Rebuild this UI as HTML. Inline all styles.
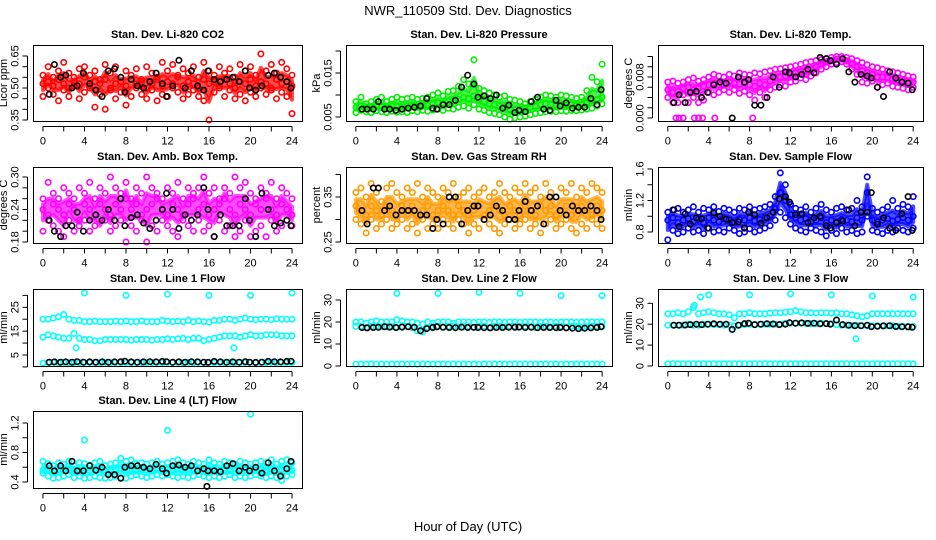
<!DOCTYPE html>
<html><head><meta charset="utf-8"><style>
html,body{margin:0;padding:0;background:#fff;}
svg{display:block;font-family:"Liberation Sans",sans-serif;}
</style></head><body>
<svg id="chart" width="936" height="540" viewBox="0 0 936 540">
<text x="468" y="15" text-anchor="middle" font-size="13">NWR_110509  Std. Dev. Diagnostics</text>
<text x="468" y="531" text-anchor="middle" font-size="13">Hour of Day (UTC)</text>
</svg>
<script>
const hours=[0,0.5,1,1.5,2,2.5,3,3.5,4,4.5,5,5.5,6,6.5,7,7.5,8,8.5,9,9.5,10,10.5,11,11.5,12,12.5,13,13.5,14,14.5,15,15.5,16,16.5,17,17.5,18,18.5,19,19.5,20,20.5,21,21.5,22,22.5,23,23.5,24];
const blackHours=[0.6,1.1,1.7,2.2,2.8,3.3,3.9,4.5,5.1,5.7,6.3,6.9,7.5,7.9,8.5,9.1,9.7,10.3,10.9,11.5,11.9,12.5,13.1,13.7,14.3,14.9,15.5,15.9,16.5,17.1,17.7,18.3,18.9,19.5,19.9,20.5,21.1,21.7,22.3,22.9,23.5,23.9];

const co2A=[0.56,0.60,0.55,0.58,0.62,0.57,0.55,0.59,0.60,0.56,0.58,0.54,0.61,0.57,0.60,0.55,0.58,0.56,0.59,0.54,0.60,0.57,0.55,0.62,0.58,0.61,0.56,0.59,0.57,0.60,0.55,0.62,0.58,0.56,0.60,0.57,0.59,0.55,0.61,0.58,0.60,0.56,0.66,0.58,0.61,0.57,0.62,0.59,0.56];
const co2B=[0.46,0.50,0.47,0.44,0.49,0.46,0.51,0.45,0.48,0.50,0.41,0.47,0.40,0.49,0.45,0.48,0.42,0.46,0.50,0.47,0.45,0.49,0.44,0.47,0.46,0.50,0.48,0.45,0.47,0.49,0.46,0.44,0.35,0.48,0.50,0.46,0.49,0.45,0.47,0.44,0.48,0.46,0.50,0.47,0.49,0.45,0.48,0.46,0.38];
const co2C=[0.52,0.53,0.51,0.54,0.52,0.50,0.53,0.52,0.55,0.51,0.53,0.52,0.54,0.50,0.52,0.53,0.51,0.54,0.52,0.53,0.50,0.52,0.54,0.51,0.53,0.52,0.55,0.51,0.53,0.52,0.50,0.54,0.52,0.53,0.51,0.54,0.52,0.50,0.53,0.52,0.54,0.51,0.53,0.52,0.50,0.54,0.52,0.53,0.51];
const co2Black=[0.47,0.61,0.55,0.56,0.50,0.51,0.57,0.52,0.49,0.46,0.58,0.59,0.55,0.48,0.54,0.51,0.50,0.53,0.57,0.52,0.46,0.51,0.63,0.50,0.58,0.51,0.49,0.58,0.54,0.53,0.54,0.55,0.53,0.58,0.50,0.49,0.51,0.56,0.57,0.55,0.53,0.50];

const presA=[0.0085,0.0095,0.0080,0.0085,0.0090,0.0095,0.0085,0.0090,0.0095,0.0090,0.0092,0.0095,0.0090,0.0092,0.0095,0.0100,0.0105,0.0098,0.0108,0.0110,0.0120,0.0135,0.0125,0.0180,0.0115,0.0110,0.0105,0.0100,0.0095,0.0098,0.0090,0.0088,0.0085,0.0080,0.0085,0.0090,0.0095,0.0100,0.0098,0.0095,0.0100,0.0098,0.0095,0.0092,0.0095,0.0110,0.0140,0.0130,0.0170];
const presB=[0.0060,0.0065,0.0062,0.0060,0.0064,0.0062,0.0060,0.0063,0.0061,0.0062,0.0060,0.0064,0.0062,0.0065,0.0063,0.0066,0.0068,0.0065,0.0070,0.0068,0.0072,0.0075,0.0070,0.0078,0.0068,0.0065,0.0060,0.0058,0.0055,0.0050,0.0045,0.0048,0.0050,0.0052,0.0055,0.0058,0.0060,0.0062,0.0063,0.0062,0.0064,0.0063,0.0065,0.0064,0.0066,0.0068,0.0070,0.0075,0.0080];
const presC=[0.0072,0.0075,0.0073,0.0072,0.0074,0.0073,0.0072,0.0075,0.0074,0.0073,0.0075,0.0076,0.0074,0.0076,0.0078,0.0080,0.0082,0.0080,0.0085,0.0088,0.0090,0.0095,0.0092,0.0098,0.0090,0.0085,0.0080,0.0078,0.0075,0.0072,0.0068,0.0066,0.0068,0.0070,0.0072,0.0075,0.0078,0.0080,0.0078,0.0076,0.0078,0.0077,0.0078,0.0076,0.0078,0.0082,0.0088,0.0090,0.0095];
const presBlack=[0.0068,0.0068,0.0068,0.0085,0.0068,0.0068,0.0065,0.0068,0.0070,0.0072,0.0075,0.0092,0.0070,0.0068,0.0078,0.0078,0.0088,0.0118,0.0145,0.0125,0.0095,0.0098,0.0092,0.0100,0.0070,0.0077,0.0060,0.0065,0.0062,0.0085,0.0095,0.0068,0.0065,0.0088,0.0075,0.0082,0.0070,0.0072,0.0072,0.0092,0.0078,0.0112];

const tempA=[0.0070,0.0072,0.0068,0.0070,0.0075,0.0078,0.0072,0.0075,0.0080,0.0085,0.0082,0.0080,0.0085,0.0082,0.0088,0.0085,0.0084,0.0088,0.0086,0.0090,0.0092,0.0095,0.0096,0.0098,0.0100,0.0102,0.0105,0.0108,0.0110,0.0112,0.0114,0.0116,0.0118,0.0120,0.0120,0.0118,0.0116,0.0112,0.0108,0.0104,0.0100,0.0098,0.0095,0.0092,0.0090,0.0088,0.0085,0.0082,0.0080];
const tempB=[0.0040,0.0030,0.0030,0.0045,0.0030,0.0040,0.0030,0.0035,0.0050,0.0045,0.0050,0.0055,0.0050,0.0055,0.0048,0.0052,0.0045,0.0035,0.0050,0.0040,0.0055,0.0060,0.0065,0.0062,0.0070,0.0072,0.0078,0.0075,0.0082,0.0088,0.0095,0.0100,0.0105,0.0108,0.0110,0.0105,0.0095,0.0085,0.0070,0.0068,0.0072,0.0060,0.0065,0.0068,0.0062,0.0060,0.0058,0.0055,0.0060];
const tempC=[0.0055,0.0050,0.0052,0.0058,0.0060,0.0055,0.0058,0.0062,0.0065,0.0068,0.0065,0.0066,0.0070,0.0068,0.0066,0.0068,0.0065,0.0062,0.0068,0.0065,0.0072,0.0078,0.0080,0.0082,0.0085,0.0088,0.0090,0.0092,0.0095,0.0100,0.0105,0.0110,0.0112,0.0115,0.0115,0.0112,0.0106,0.0100,0.0092,0.0088,0.0085,0.0080,0.0080,0.0078,0.0076,0.0074,0.0072,0.0070,0.0070];
const tempZeroHours=[0.8,1.1,1.5,2.6,3.0,3.4,4.6,8.3];
const tempZeroValues=[0,0,0,0,0,0,0,0];
const tempBlack=[0.0030,0.0045,0.0030,0.0050,0.0052,0.0040,0.0050,0.0065,0.0070,0.0068,0.0000,0.0080,0.0070,0.0075,0.0025,0.0025,0.0040,0.0080,0.0060,0.0090,0.0088,0.0080,0.0085,0.0095,0.0088,0.0118,0.0116,0.0112,0.0105,0.0116,0.0090,0.0070,0.0085,0.0082,0.0078,0.0060,0.0042,0.0090,0.0078,0.0070,0.0068,0.0055];

const ambA=[0.26,0.29,0.27,0.26,0.28,0.27,0.26,0.28,0.27,0.29,0.26,0.28,0.27,0.30,0.28,0.27,0.29,0.26,0.28,0.27,0.30,0.28,0.27,0.26,0.28,0.27,0.29,0.26,0.28,0.27,0.28,0.30,0.27,0.28,0.26,0.28,0.27,0.30,0.28,0.29,0.27,0.26,0.28,0.27,0.29,0.26,0.28,0.27,0.26];
const ambB=[0.20,0.22,0.21,0.20,0.19,0.22,0.20,0.21,0.22,0.20,0.21,0.17,0.22,0.20,0.21,0.22,0.18,0.21,0.20,0.22,0.18,0.21,0.20,0.22,0.21,0.20,0.19,0.22,0.21,0.20,0.22,0.20,0.21,0.19,0.22,0.20,0.21,0.19,0.20,0.22,0.19,0.20,0.21,0.19,0.22,0.20,0.21,0.22,0.21];
const ambC=[0.24,0.23,0.25,0.24,0.23,0.25,0.24,0.22,0.25,0.24,0.23,0.25,0.24,0.23,0.25,0.24,0.26,0.24,0.25,0.23,0.24,0.25,0.26,0.24,0.23,0.25,0.24,0.23,0.25,0.26,0.24,0.25,0.23,0.24,0.25,0.26,0.24,0.23,0.25,0.24,0.23,0.25,0.24,0.26,0.24,0.23,0.25,0.24,0.23];
const ambBlack=[0.22,0.20,0.19,0.21,0.21,0.235,0.20,0.22,0.23,0.22,0.24,0.22,0.26,0.21,0.225,0.23,0.215,0.205,0.22,0.24,0.27,0.24,0.205,0.23,0.22,0.23,0.28,0.24,0.19,0.23,0.21,0.21,0.21,0.26,0.22,0.19,0.27,0.24,0.21,0.215,0.22,0.21];

const rhA=[0.36,0.37,0.35,0.38,0.36,0.34,0.37,0.38,0.36,0.35,0.37,0.36,0.38,0.35,0.37,0.36,0.35,0.37,0.36,0.38,0.35,0.36,0.37,0.35,0.36,0.37,0.35,0.36,0.38,0.36,0.35,0.37,0.36,0.38,0.36,0.37,0.35,0.38,0.36,0.35,0.37,0.36,0.38,0.35,0.37,0.36,0.38,0.37,0.36];
const rhB=[0.30,0.29,0.27,0.30,0.28,0.29,0.30,0.28,0.29,0.30,0.28,0.29,0.27,0.30,0.28,0.29,0.28,0.30,0.29,0.28,0.30,0.29,0.27,0.29,0.28,0.30,0.29,0.28,0.27,0.29,0.30,0.28,0.29,0.30,0.28,0.29,0.27,0.29,0.30,0.28,0.29,0.30,0.28,0.27,0.29,0.28,0.30,0.29,0.28];
const rhC=[0.33,0.32,0.31,0.33,0.32,0.31,0.33,0.32,0.31,0.33,0.32,0.33,0.31,0.32,0.33,0.31,0.32,0.33,0.32,0.31,0.33,0.32,0.31,0.32,0.33,0.31,0.32,0.33,0.32,0.31,0.33,0.32,0.31,0.33,0.32,0.31,0.33,0.32,0.33,0.31,0.32,0.33,0.31,0.32,0.33,0.32,0.31,0.33,0.32];
const rhBlack=[0.32,0.29,0.37,0.37,0.32,0.33,0.31,0.32,0.32,0.32,0.31,0.31,0.28,0.30,0.29,0.35,0.35,0.29,0.32,0.33,0.33,0.30,0.31,0.33,0.32,0.30,0.30,0.32,0.34,0.32,0.33,0.29,0.35,0.35,0.32,0.31,0.33,0.32,0.32,0.33,0.32,0.30];

const flowA=[1.05,1.08,1.10,1.05,1.08,1.12,1.05,1.10,1.08,1.12,1.06,1.10,1.08,1.05,1.10,1.08,1.12,1.08,1.10,1.12,1.15,1.25,1.55,1.40,1.15,1.10,1.08,1.12,1.05,1.10,1.15,1.08,1.05,1.10,1.12,1.08,1.10,1.20,1.12,1.50,1.10,1.05,1.08,1.12,1.20,1.10,1.15,1.12,1.25];
const flowB=[0.70,0.82,0.78,0.80,0.85,0.80,0.82,0.78,0.85,0.80,0.82,0.80,0.85,0.82,0.78,0.80,0.84,0.80,0.82,0.85,0.88,0.95,1.05,0.98,0.90,0.85,0.82,0.80,0.85,0.82,0.80,0.75,0.82,0.78,0.85,0.80,0.82,0.78,0.80,1.00,0.82,0.80,0.78,0.82,0.80,0.85,0.82,0.80,0.85];
const flowC=[0.95,0.98,0.92,0.95,0.97,0.93,0.96,0.92,0.98,0.95,0.93,0.97,0.95,0.92,0.96,0.95,0.98,0.94,0.96,0.98,1.00,1.10,1.30,1.20,1.02,0.98,0.95,0.97,0.93,0.95,0.98,0.92,0.95,0.93,0.96,0.95,0.93,0.98,0.95,1.30,0.95,0.93,0.95,0.97,0.94,0.96,0.98,0.95,1.00];
const flowBlack=[1.08,0.87,1.03,0.90,0.98,0.97,0.85,1.04,1.00,0.96,0.92,0.93,0.85,1.05,1.02,0.91,0.98,1.05,1.22,1.25,1.18,1.02,1.03,0.92,0.98,1.00,0.88,0.85,0.92,0.94,1.08,0.88,1.05,1.05,1.30,0.90,0.98,0.85,0.82,1.03,1.25,0.82];

const l1A=[20,20,20.5,21,22,20,19.5,19.5,19,19,19.2,19,19,19,19.2,19,19.2,19,19,19.3,19,19,19,19.5,19.2,19,19.2,19,19.5,19,19.3,19,18.8,19.5,19.5,20,20,19.5,20,20.5,20,19.8,20,20,19.8,20.2,20,20,20];
const l1B=[12.5,13.5,13,12.5,12,12,14,12,11.5,11.5,11,11,11.5,11.5,11.5,11.5,11.5,11.2,11.5,11.5,11.5,11.2,11.5,11.5,11.8,11.5,11.8,12,11.5,12,12,11,11.5,12,12.5,13,13,13,12.5,13,13.5,13,13,13.5,13.5,13.5,13,13,13];
const l1C=[1.6,1.8,1.9,1.8,1.9,1.8,1.9,1.8,1.9,1.8,1.9,1.8,1.9,1.8,1.9,1.8,1.9,1.8,1.9,1.8,1.9,1.8,1.9,1.8,1.9,1.8,1.9,1.8,1.9,1.8,1.9,1.8,1.9,1.8,1.9,1.8,1.9,1.8,1.9,1.8,1.9,1.8,1.9,1.8,1.9,1.8,1.9,1.8,1.9];
const l1OutHours=[3.2,4,8,12,16,18.4,20,24];
const l1OutValues=[8,31,30,30.5,30,8,30,31];
const l1Black=[2.0,2.1,2.0,2.1,2.0,2.2,2.0,2.1,2.0,2.1,2.0,2.1,2.2,2.4,2.1,2.0,2.1,2.2,2.1,2.3,2.2,2.0,2.1,2.0,2.2,2.1,2.0,1.9,2.3,2.1,2.0,2.1,2.0,2.2,2.0,1.9,2.0,2.3,2.2,2.1,2.3,2.4];

const l2A=[20,20,19.5,20,20.5,20,20,20,21,20.5,20,20,19.5,19,20,19.5,20,20,20,19.5,20,20,20,19.8,20,20,19.8,20,20,19.8,20,20,19.8,20,20,20,19.8,20,20,19.8,20,20,20,19.8,20,20,20,20,20];
const l2B=[18,18,17.5,18,18,17.8,18,18,17.5,18,18,17.5,16,15.5,17.5,18,18,17.8,18,18,17.8,18,18,17.5,18,18,17.5,18,18,17.8,18,18,17.8,18,18,17.5,18,18,17.8,18,18,17.5,18,18,17.5,17.8,18,18,18];
const l2C=[0.8,0.9,0.8,0.9,0.8,0.9,0.8,0.9,0.8,0.9,0.8,0.9,0.8,0.9,0.8,0.9,0.8,0.9,0.8,0.9,0.8,0.9,0.8,0.9,0.8,0.9,0.8,0.9,0.8,0.9,0.8,0.9,0.8,0.9,0.8,0.9,0.8,0.9,0.8,0.9,0.8,0.9,0.8,0.9,0.8,0.9,0.8,0.9,0.8];
const l2OutHours=[4,8,12,16,20,24];
const l2OutValues=[33,33,33.5,33,32,32];
const l2Black=[17.5,17.3,17.5,17.6,17.8,17.7,17.5,17.7,17.8,17.6,16.0,17.0,17.5,17.8,17.6,17.5,17.4,17.6,17.5,17.6,17.5,17.4,17.3,17.5,17.5,17.6,17.6,17.7,17.5,17.6,17.4,17.5,17.5,17.4,17.5,17.3,17.2,17.0,17.2,17.3,17.5,17.8];

const l3A=[25,25,25.5,25,26,28,25,25.5,26,25.5,25,25,24.5,23,25,25,25.5,25,25,25,25.3,25.5,25.5,25.8,26,26.5,26,25.5,25.5,25.3,25.5,25.5,25.3,25.5,25,25,24.5,24,23.5,24,25,25,25,25,25,25,25,25,25];
const l3B=[19.5,19.5,19.5,19.5,20,19.5,19.5,19.8,20,19.8,19.8,19.5,19.5,19,19.5,19.8,20,19.8,20,20,20,20,20,20.5,20.5,20.5,20.5,20.5,20.3,20.3,20.5,20.3,20.3,19.8,19.5,19.5,19.5,19.5,19.3,19.3,19.3,19.3,19.2,19.2,19.2,19,19,19,19];
const l3C=[1.0,1.1,1.0,1.1,1.0,1.1,1.0,1.1,1.0,1.1,1.0,1.1,1.0,1.1,1.0,1.1,1.0,1.1,1.0,1.1,1.0,1.1,1.0,1.1,1.0,1.1,1.0,1.1,1.0,1.1,1.0,1.1,1.0,1.1,1.0,1.1,1.0,1.1,1.0,1.1,1.0,1.1,1.0,1.1,1.0,1.1,1.0,1.1,1.0];
const l3OutHours=[2.6,3.2,4,8,12,16,18.4,20,24];
const l3OutValues=[29,33,34,34,34.5,34,13,33.5,33];
const l3Black=[19.5,19.5,19.6,19.8,20,19.8,20,20.2,20,20,17.5,19.5,20.3,20.5,19.8,20,20.2,20.1,19.8,20,20.7,20.5,20.6,20.4,20.5,20.2,20.3,20,22,19.8,19.5,19.3,19.3,19.5,18.8,19,19.2,19.3,18.9,18.8,18.7,18.5];

const l4A=[0.68,0.65,0.62,0.66,0.64,0.68,0.62,0.66,0.65,0.63,0.66,0.68,0.62,0.64,0.66,0.72,0.68,0.70,0.65,0.66,0.64,0.66,0.68,0.64,0.66,0.68,0.70,0.66,0.64,0.68,0.66,0.64,0.70,0.66,0.64,0.68,0.66,0.64,0.68,0.66,0.64,0.66,0.68,0.66,0.70,0.64,0.68,0.70,0.66];
const l4B=[0.52,0.48,0.45,0.46,0.48,0.50,0.46,0.48,0.45,0.46,0.48,0.46,0.45,0.46,0.48,0.46,0.45,0.48,0.50,0.48,0.46,0.48,0.50,0.48,0.50,0.48,0.46,0.48,0.46,0.48,0.50,0.48,0.46,0.48,0.46,0.48,0.50,0.46,0.48,0.46,0.48,0.50,0.48,0.46,0.48,0.46,0.42,0.48,0.50];
const l4C=[0.56,0.58,0.55,0.57,0.58,0.56,0.57,0.55,0.58,0.56,0.57,0.58,0.55,0.57,0.56,0.58,0.56,0.57,0.55,0.58,0.56,0.57,0.58,0.56,0.57,0.55,0.58,0.56,0.57,0.58,0.56,0.55,0.57,0.58,0.56,0.57,0.55,0.58,0.56,0.57,0.58,0.56,0.57,0.55,0.58,0.56,0.57,0.58,0.56];
const l4OutHours=[4,12,20];
const l4OutValues=[0.97,1.1,1.32];
const l4Black=[0.62,0.55,0.62,0.55,0.68,0.55,0.55,0.62,0.56,0.60,0.50,0.50,0.45,0.60,0.62,0.62,0.60,0.58,0.64,0.58,0.52,0.62,0.63,0.60,0.62,0.55,0.58,0.55,0.55,0.54,0.62,0.65,0.55,0.60,0.55,0.60,0.52,0.66,0.55,0.48,0.58,0.68];
const l4BlackOutHours=[15.8];
const l4BlackOutValues=[0.34];

const xTicks=[0,2,4,6,8,10,12,14,16,18,20,22,24];
const xLabels=[0,4,8,12,16,20,24];

const svg=document.getElementById('chart');
const NS='http://www.w3.org/2000/svg';
function mk(tag,attrs,parent){const e=document.createElementNS(NS,tag);for(const k in attrs)e.setAttribute(k,attrs[k]);(parent||svg).appendChild(e);return e;}

const cols=[[33,302],[346,612],[658,923]];
const rows=[[45,121],[167,243],[289,366],[411,488]];

const panels=[
 {name:'co2',title:'Stan. Dev. Li-820 CO2',ylab:'Licor ppm',c:0,r:0,color:'#ff0000',cloud:true,v1:0.35,p1:120,v2:0.65,p2:56,ticks:[0.35,0.40,0.45,0.50,0.55,0.60,0.65],labels:[[0.35,'0.35'],[0.50,'0.50'],[0.65,'0.65']],series:[co2A,co2B,co2C],black:co2Black},
 {name:'pressure',title:'Stan. Dev. Li-820 Pressure',ylab:'kPa',c:1,r:0,color:'#00ee00',cloud:true,v1:0.005,p1:117,v2:0.015,p2:73,ticks:[0.005,0.010,0.015,0.020],labels:[[0.005,'0.005'],[0.015,'0.015']],series:[presA,presB,presC],black:presBlack},
 {name:'li820-temp',title:'Stan. Dev. Li-820 Temp.',ylab:'degrees C',c:2,r:0,color:'#ff00ff',cloud:true,v1:0,p1:118,v2:0.008,p2:77,ticks:[0,0.002,0.004,0.006,0.008,0.010,0.012],labels:[[0,'0.000'],[0.008,'0.008']],series:[tempA,tempB,tempC],outH:tempZeroHours,outV:tempZeroValues,black:tempBlack},
 {name:'amb-box-temp',title:'Stan. Dev. Amb. Box Temp.',ylab:'degrees C',c:0,r:1,color:'#ff00ff',cloud:true,v1:0.18,p1:242,v2:0.30,p2:177,ticks:[0.18,0.20,0.22,0.24,0.26,0.28,0.30],labels:[[0.18,'0.18'],[0.24,'0.24'],[0.30,'0.30']],series:[ambA,ambB,ambC],black:ambBlack},
 {name:'gas-stream-rh',title:'Stan. Dev. Gas Stream RH',ylab:'percent',c:1,r:1,color:'#ff9900',cloud:true,v1:0.25,p1:242,v2:0.35,p2:197,ticks:[0.25,0.30,0.35,0.40],labels:[[0.25,'0.25'],[0.35,'0.35']],series:[rhA,rhB,rhC],black:rhBlack},
 {name:'sample-flow',title:'Stan. Dev. Sample Flow',ylab:'ml/min',c:2,r:1,color:'#0000ff',cloud:true,v1:0.8,p1:232,v2:1.6,p2:169,ticks:[0.8,1.0,1.2,1.4,1.6],labels:[[0.8,'0.8'],[1.2,'1.2'],[1.6,'1.6']],series:[flowA,flowB,flowC],black:flowBlack},
 {name:'line1-flow',title:'Stan. Dev. Line 1 Flow',ylab:'ml/min',c:0,r:2,color:'#00ffff',v1:5,p1:355,v2:25,p2:307.3,ticks:[0,5,10,15,20,25,30],labels:[[5,'5'],[15,'15'],[25,'25']],series:[l1A,l1B,l1C],outH:l1OutHours,outV:l1OutValues,black:l1Black},
 {name:'line2-flow',title:'Stan. Dev. Line 2 Flow',ylab:'ml/min',c:1,r:2,color:'#00ffff',v1:0,p1:366,v2:30,p2:300,ticks:[0,10,20,30],labels:[[0,'0'],[10,'10'],[20,'20'],[30,'30']],series:[l2A,l2B,l2C],outH:l2OutHours,outV:l2OutValues,black:l2Black},
 {name:'line3-flow',title:'Stan. Dev. Line 3 Flow',ylab:'ml/min',c:2,r:2,color:'#00ffff',v1:0,p1:366,v2:30,p2:303.3,ticks:[0,10,20,30],labels:[[0,'0'],[10,'10'],[20,'20'],[30,'30']],series:[l3A,l3B,l3C],outH:l3OutHours,outV:l3OutValues,black:l3Black},
 {name:'line4-flow',title:'Stan. Dev. Line 4 (LT) Flow',ylab:'ml/min',c:0,r:3,color:'#00ffff',cloud:true,v1:0.4,p1:482,v2:1.2,p2:423,ticks:[0.4,0.6,0.8,1.0,1.2],labels:[[0.4,'0.4'],[0.8,'0.8'],[1.2,'1.2']],series:[l4A,l4B,l4C],outH:l4OutHours,outV:l4OutValues,black:l4Black,bOutH:l4BlackOutHours,bOutV:l4BlackOutValues}
];

panels.forEach(p=>{
  const [bx0,bx1]=cols[p.c],[by0,by1]=rows[p.r];
  const g=mk('g',{});
  
  
  const xs=h=>bx0+(h+0.96)/25.92*(bx1-bx0);
  const ys=v=>p.p1+(v-p.v1)/(p.v2-p.v1)*(p.p2-p.p1);
  const t=mk('text',{x:(bx0+bx1)/2,y:by0-7,'text-anchor':'middle','font-size':11,'font-weight':'bold'},g);
  t.textContent=p.title;
  
  
  const clip=mk('g',{},g);
  
  
  if(p.cloud){
    const [A,B,C]=p.series;
    const n=Math.min(A.length,B.length,C.length,hours.length);
    let up=[],lo=[];
    for(let i=0;i<n;i++){
      up.push(xs(hours[i]).toFixed(1)+','+ys((A[i]+C[i])/2).toFixed(1));
      lo.unshift(xs(hours[i]).toFixed(1)+','+ys((B[i]+C[i])/2).toFixed(1));
    }
    const band=mk('polygon',{points:up.concat(lo).join(' '),fill:p.color,'fill-opacity':0.7,stroke:p.color,'stroke-width':4,'stroke-opacity':0.7,'stroke-linejoin':'round'},clip);
    
    
  }
  function dot(h,v,col,par){
    const y=ys(v); if(y<by0-3||y>by1+3) return;
    const c=mk('circle',{cx:xs(h).toFixed(1),cy:y.toFixed(1),r:2.7,fill:'none',stroke:col,'stroke-width':1.6},par);
    
    
  }
  p.series.forEach(arr=>{const n=Math.min(arr.length,hours.length);for(let i=0;i<n;i++)dot(hours[i],arr[i],p.color,clip);});
  if(p.outH) p.outH.forEach((h,i)=>dot(h,p.outV[i],p.color,clip));
  const n=Math.min(p.black.length,blackHours.length);
  for(let i=0;i<n;i++)dot(blackHours[i],p.black[i],'#000',clip);
  if(p.bOutH) p.bOutH.forEach((h,i)=>dot(h,p.bOutV[i],'#000',clip));
  const box=mk('rect',{x:bx0+0.5,y:by0+0.5,width:bx1-bx0,height:by1-by0,fill:'none',stroke:'#000','stroke-width':1},g);
  
  
  const xa=mk('g',{stroke:'#000','stroke-width':1},g);
  
  
  const axY=by1+5.5;
  mk('line',{x1:xs(0),x2:xs(24),y1:axY,y2:axY},xa);
  xTicks.forEach(h=>mk('line',{x1:xs(h),x2:xs(h),y1:axY,y2:axY+5},xa));
  xLabels.forEach(h=>{const tx=mk('text',{x:xs(h),y:axY+18,'text-anchor':'middle','font-size':11,stroke:'none',fill:'#000'},g);tx.textContent=h;
    
    });
  const ya=mk('g',{stroke:'#000','stroke-width':1},g);
  
  
  const axX=bx0-5.5;
  mk('line',{x1:axX,x2:axX,y1:ys(p.ticks[0]),y2:ys(p.ticks[p.ticks.length-1])},ya);
  p.ticks.forEach(v=>mk('line',{x1:axX-5,x2:axX,y1:ys(v),y2:ys(v)},ya));
  p.labels.forEach(([v,s])=>{const lx=axX-9,ly=ys(v);const tx=mk('text',{x:lx,y:ly,'text-anchor':'middle','font-size':11,transform:`rotate(-90 ${lx} ${ly})`},g);tx.textContent=s;
    
    });
  const yx=bx0-26,yy=(by0+by1)/2;
  const yl=mk('text',{x:yx,y:yy,'text-anchor':'middle','font-size':11,transform:`rotate(-90 ${yx} ${yy})`},g);
  yl.textContent=p.ylab;
  
  
});
</script>
</body></html>
